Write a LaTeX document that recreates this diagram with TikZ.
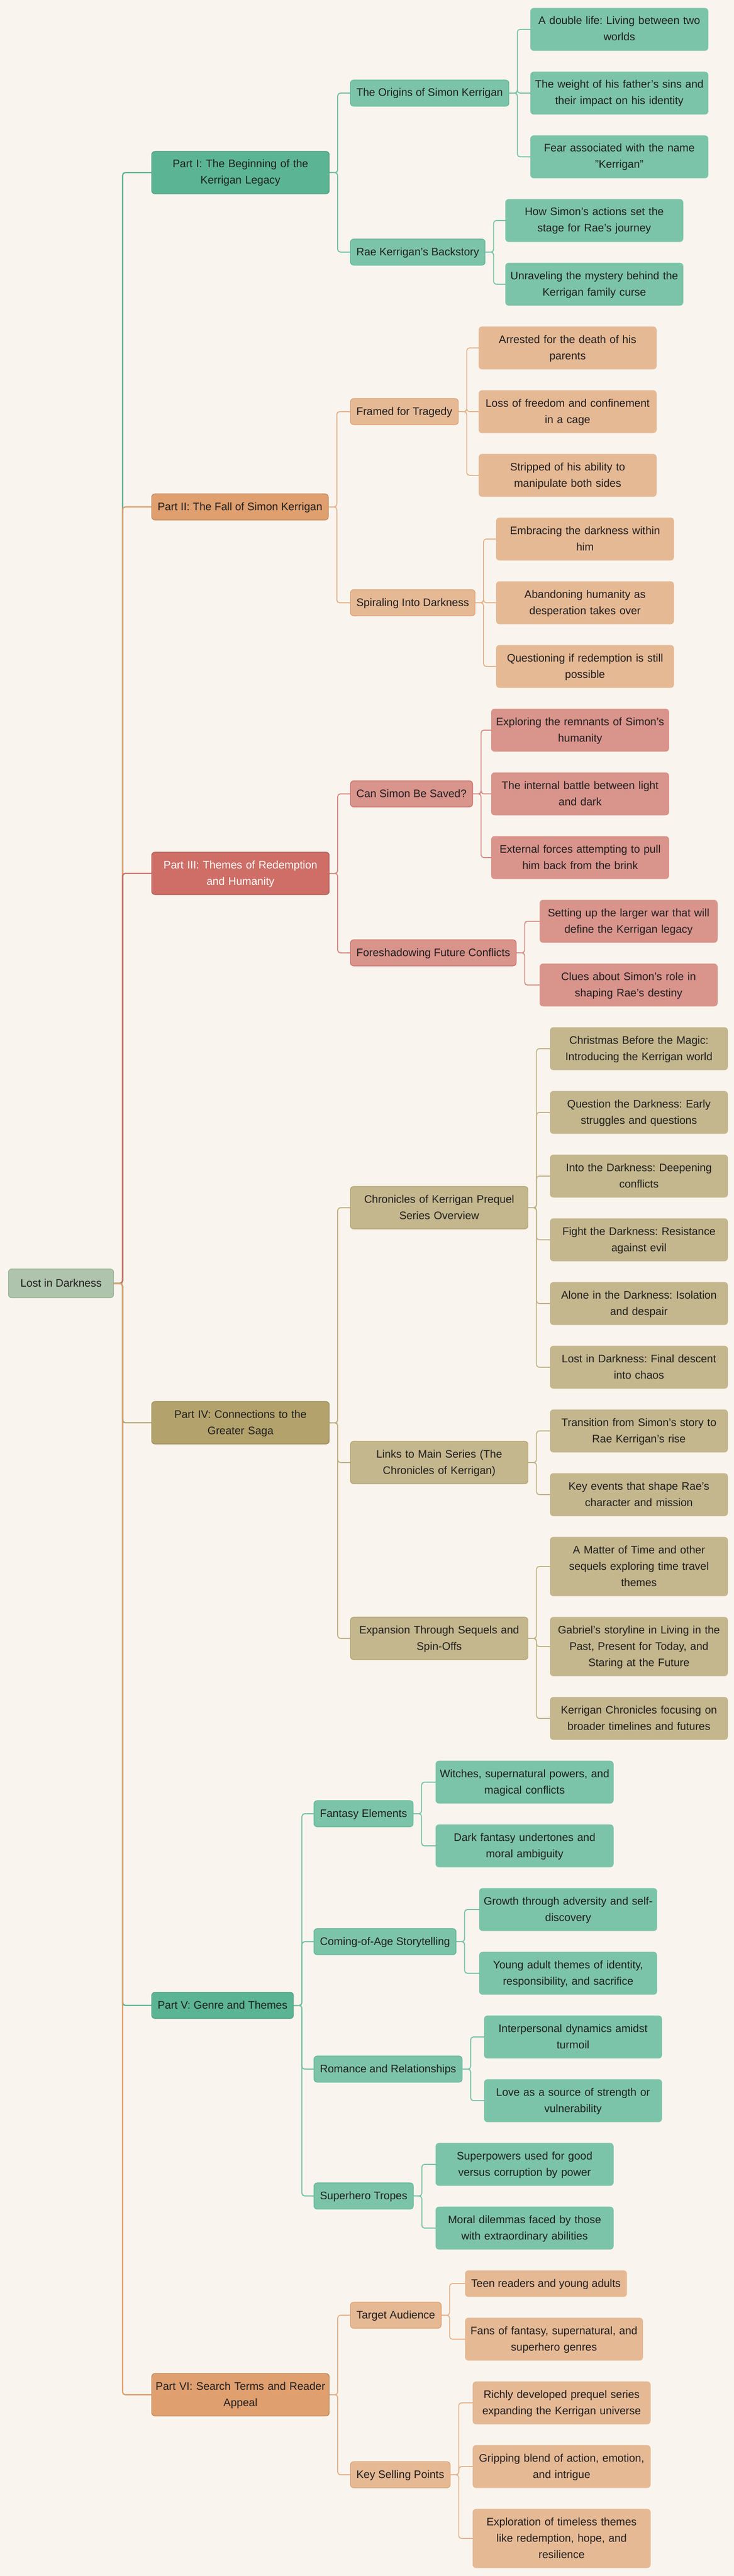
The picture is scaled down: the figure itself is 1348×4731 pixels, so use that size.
\documentclass[tikz,border=0pt]{standalone}
\usepackage{fontspec}
\setmainfont{Liberation Sans}
\frenchspacing
\hyphenpenalty=10000
\definecolor{paper}{HTML}{F9F5EE}
\definecolor{ink}{HTML}{1F1F1F}
\definecolor{sage}{HTML}{AFC4AC}
\definecolor{sagedark}{HTML}{98B394}
\definecolor{mint}{HTML}{5BB594}
\definecolor{mintlight}{HTML}{7CC4A9}
\definecolor{apricot}{HTML}{DF9F6F}
\definecolor{apricotlight}{HTML}{E6B995}
\definecolor{rust}{HTML}{CE6E66}
\definecolor{rustlight}{HTML}{D9948C}
\definecolor{sand}{HTML}{B4A26C}
\definecolor{sandlight}{HTML}{C4B68D}
\tikzset{
  box/.style={rounded corners=3pt, inner xsep=5.5pt, inner ysep=4.5pt, anchor=west,
    align=center, text=ink, font=\fontsize{10pt}{15pt}\selectfont,
    execute at begin node=\strut, execute at end node=\strut},
  wide/.style={text width=160pt, inner xsep=1.5pt},
  rootbox/.style={box, fill=sage, draw=sagedark, line width=0.6pt, inner xsep=11pt, minimum height=26.5pt},
  partbox/.style={box, fill=#1, draw=#1!85!black, line width=0.6pt},
  topicbox/.style={box, fill=#1light, draw=#1, line width=0.6pt},
  shortleaf/.style={box, fill=#1light, draw=#1light},
  leafbox/.style={shortleaf=#1, wide},
  trunk/.style={draw=#1, line width=1.2pt, rounded corners=2.5pt},
  twig/.style={draw=#1light!85!#1, line width=1pt, rounded corners=2.5pt},
}
\begin{document}
\begin{tikzpicture}[x=0.5pt, y=-0.5pt]
  \fill[paper] (0,0) rectangle (1348,4731);

  % root
  \node[rootbox] (root) at (15,2357) {Lost in Darkness};

  % parts
  \node[partbox=mint, wide] (p1) at (278,317) {Part I: The Beginning of the\\Kerrigan Legacy};
  \node[partbox=apricot] (p2) at (278,931) {Part II: The Fall of Simon Kerrigan};
  \node[partbox=rust, wide, text=white] (p3) at (278,1604) {Part III: Themes of Redemption\\and Humanity};
  \node[partbox=sand, wide] (p4) at (278,2613) {Part IV: Connections to the\\Greater Saga};
  \node[partbox=mint] (p5) at (278,3683) {Part V: Genre and Themes};
  \node[partbox=apricot, wide] (p6) at (278,4398) {Part VI: Search Terms and Reader\\Appeal};

  % part I
  \node[topicbox=mint] (origins) at (643,171) {The Origins of Simon Kerrigan};
  \node[topicbox=mint] (rae) at (643,463) {Rae Kerrigan's Backstory};
  \node[leafbox=mint] (o1) at (974,54) {A double life: Living between two\\worlds};
  \node[leafbox=mint] (o2) at (974,171) {The weight of his father's sins and\\their impact on his identity};
  \node[leafbox=mint] (o3) at (974,288) {Fear associated with the name\\"Kerrigan"};
  \node[leafbox=mint] (r1) at (928,405) {How Simon's actions set the\\stage for Rae's journey};
  \node[leafbox=mint] (r2) at (928,522) {Unraveling the mystery behind the\\Kerrigan family curse};

  % part II
  \node[topicbox=apricot] (framed) at (643,756) {Framed for Tragedy};
  \node[topicbox=apricot] (spiral) at (643,1107) {Spiraling Into Darkness};
  \node[leafbox=apricot] (f1) at (879,639) {Arrested for the death of his\\parents};
  \node[leafbox=apricot] (f2) at (879,756) {Loss of freedom and confinement\\in a cage};
  \node[leafbox=apricot] (f3) at (879,873) {Stripped of his ability to\\manipulate both sides};
  \node[leafbox=apricot] (s1) at (911,990) {Embracing the darkness within\\him};
  \node[leafbox=apricot] (s2) at (911,1107) {Abandoning humanity as\\desperation takes over};
  \node[leafbox=apricot] (s3) at (911,1224) {Questioning if redemption is still\\possible};

  % part III
  \node[topicbox=rust] (saved) at (643,1458) {Can Simon Be Saved?};
  \node[topicbox=rust] (foreshadow) at (643,1750) {Foreshadowing Future Conflicts};
  \node[leafbox=rust] (v1) at (902,1341) {Exploring the remnants of Simon's\\humanity};
  \node[leafbox=rust] (v2) at (902,1458) {The internal battle between light\\and dark};
  \node[leafbox=rust] (v3) at (902,1575) {External forces attempting to pull\\him back from the brink};
  \node[leafbox=rust] (h1) at (991,1692) {Setting up the larger war that will\\define the Kerrigan legacy};
  \node[leafbox=rust] (h2) at (991,1809) {Clues about Simon's role in\\shaping Rae's destiny};

  % part IV
  \node[topicbox=sand, wide] (chronicles) at (643,2218) {Chronicles of Kerrigan Prequel\\Series Overview};
  \node[topicbox=sand, wide] (links) at (643,2686) {Links to Main Series (The\\Chronicles of Kerrigan)};
  \node[topicbox=sand, wide] (expansion) at (643,3009) {Expansion Through Sequels and\\Spin-Offs};
  \node[leafbox=sand] (c1) at (1010,1926) {Christmas Before the Magic:\\Introducing the Kerrigan world};
  \node[leafbox=sand] (c2) at (1010,2043) {Question the Darkness: Early\\struggles and questions};
  \node[leafbox=sand] (c3) at (1010,2160) {Into the Darkness: Deepening\\conflicts};
  \node[leafbox=sand] (c4) at (1010,2277) {Fight the Darkness: Resistance\\against evil};
  \node[leafbox=sand] (c5) at (1010,2394) {Alone in the Darkness: Isolation\\and despair};
  \node[leafbox=sand] (c6) at (1010,2511) {Lost in Darkness: Final descent\\into chaos};
  \node[leafbox=sand] (l1) at (1010,2628) {Transition from Simon's story to\\Rae Kerrigan's rise};
  \node[leafbox=sand] (l2) at (1010,2745) {Key events that shape Rae's\\character and mission};
  \node[leafbox=sand] (e1) at (1010,2877) {A Matter of Time and other\\sequels exploring time travel\\themes};
  \node[leafbox=sand] (e2) at (1010,3024) {Gabriel's storyline in Living in the\\Past, Present for Today, and\\Staring at the Future};
  \node[leafbox=sand] (e3) at (1010,3156) {Kerrigan Chronicles focusing on\\broader timelines and futures};

  % part V
  \node[topicbox=mint] (fantasy) at (576,3331) {Fantasy Elements};
  \node[topicbox=mint] (coming) at (576,3566) {Coming-of-Age Storytelling};
  \node[topicbox=mint] (romance) at (576,3800) {Romance and Relationships};
  \node[topicbox=mint] (superhero) at (576,4033) {Superhero Tropes};
  \node[leafbox=mint] (fa1) at (800,3273) {Witches, supernatural powers, and\\magical conflicts};
  \node[leafbox=mint] (fa2) at (800,3390) {Dark fantasy undertones and\\moral ambiguity};
  \node[leafbox=mint] (g1) at (880,3507) {Growth through adversity and self-\\discovery};
  \node[leafbox=mint] (g2) at (880,3624) {Young adult themes of identity,\\responsibility, and sacrifice};
  \node[leafbox=mint] (ro1) at (889,3741) {Interpersonal dynamics amidst\\turmoil};
  \node[leafbox=mint] (ro2) at (889,3858) {Love as a source of strength or\\vulnerability};
  \node[leafbox=mint] (su1) at (800,3975) {Superpowers used for good\\versus corruption by power};
  \node[leafbox=mint] (su2) at (800,4092) {Moral dilemmas faced by those\\with extraordinary abilities};

  % part VI
  \node[topicbox=apricot] (audience) at (643,4252) {Target Audience};
  \node[topicbox=apricot] (selling) at (643,4545) {Key Selling Points};
  \node[shortleaf=apricot] (a1) at (854,4194) {Teen readers and young adults};
  \node[leafbox=apricot] (a2) at (854,4296) {Fans of fantasy, supernatural, and\\superhero genres};
  \node[leafbox=apricot] (k1) at (868,4413) {Richly developed prequel series\\expanding the Kerrigan universe};
  \node[leafbox=apricot] (k2) at (868,4530) {Gripping blend of action, emotion,\\and intrigue};
  \node[leafbox=apricot] (k3) at (868,4662) {Exploration of timeless themes\\like redemption, hope, and\\resilience};

  % connectors
  \foreach \p/\c in {p1/mint, p2/apricot, p3/rust, p4/sand, p5/mint, p6/apricot}
    \draw[trunk=\c] (root.east) -- ++(16,0) |- (\p.west);
  \foreach \a/\b/\c in {p1/origins/mint, p1/rae/mint, p2/framed/apricot, p2/spiral/apricot,
      p3/saved/rust, p3/foreshadow/rust, p4/chronicles/sand, p4/links/sand, p4/expansion/sand,
      p5/fantasy/mint, p5/coming/mint, p5/romance/mint, p5/superhero/mint,
      p6/audience/apricot, p6/selling/apricot}
    \draw[twig=\c] (\a.east) -- ++(15,0) |- (\b.west);
  \foreach \a/\b/\c in {origins/o1/mint, origins/o2/mint, origins/o3/mint, rae/r1/mint, rae/r2/mint,
      framed/f1/apricot, framed/f2/apricot, framed/f3/apricot,
      spiral/s1/apricot, spiral/s2/apricot, spiral/s3/apricot,
      saved/v1/rust, saved/v2/rust, saved/v3/rust, foreshadow/h1/rust, foreshadow/h2/rust,
      chronicles/c1/sand, chronicles/c2/sand, chronicles/c3/sand, chronicles/c4/sand,
      chronicles/c5/sand, chronicles/c6/sand, links/l1/sand, links/l2/sand,
      expansion/e1/sand, expansion/e2/sand, expansion/e3/sand,
      fantasy/fa1/mint, fantasy/fa2/mint, coming/g1/mint, coming/g2/mint,
      romance/ro1/mint, romance/ro2/mint, superhero/su1/mint, superhero/su2/mint,
      audience/a1/apricot, audience/a2/apricot, selling/k1/apricot, selling/k2/apricot,
      selling/k3/apricot}
    \draw[twig=\c, line width=0.9pt] (\a.east) -- ++(15,0) |- (\b.west);
\end{tikzpicture}
\end{document}
